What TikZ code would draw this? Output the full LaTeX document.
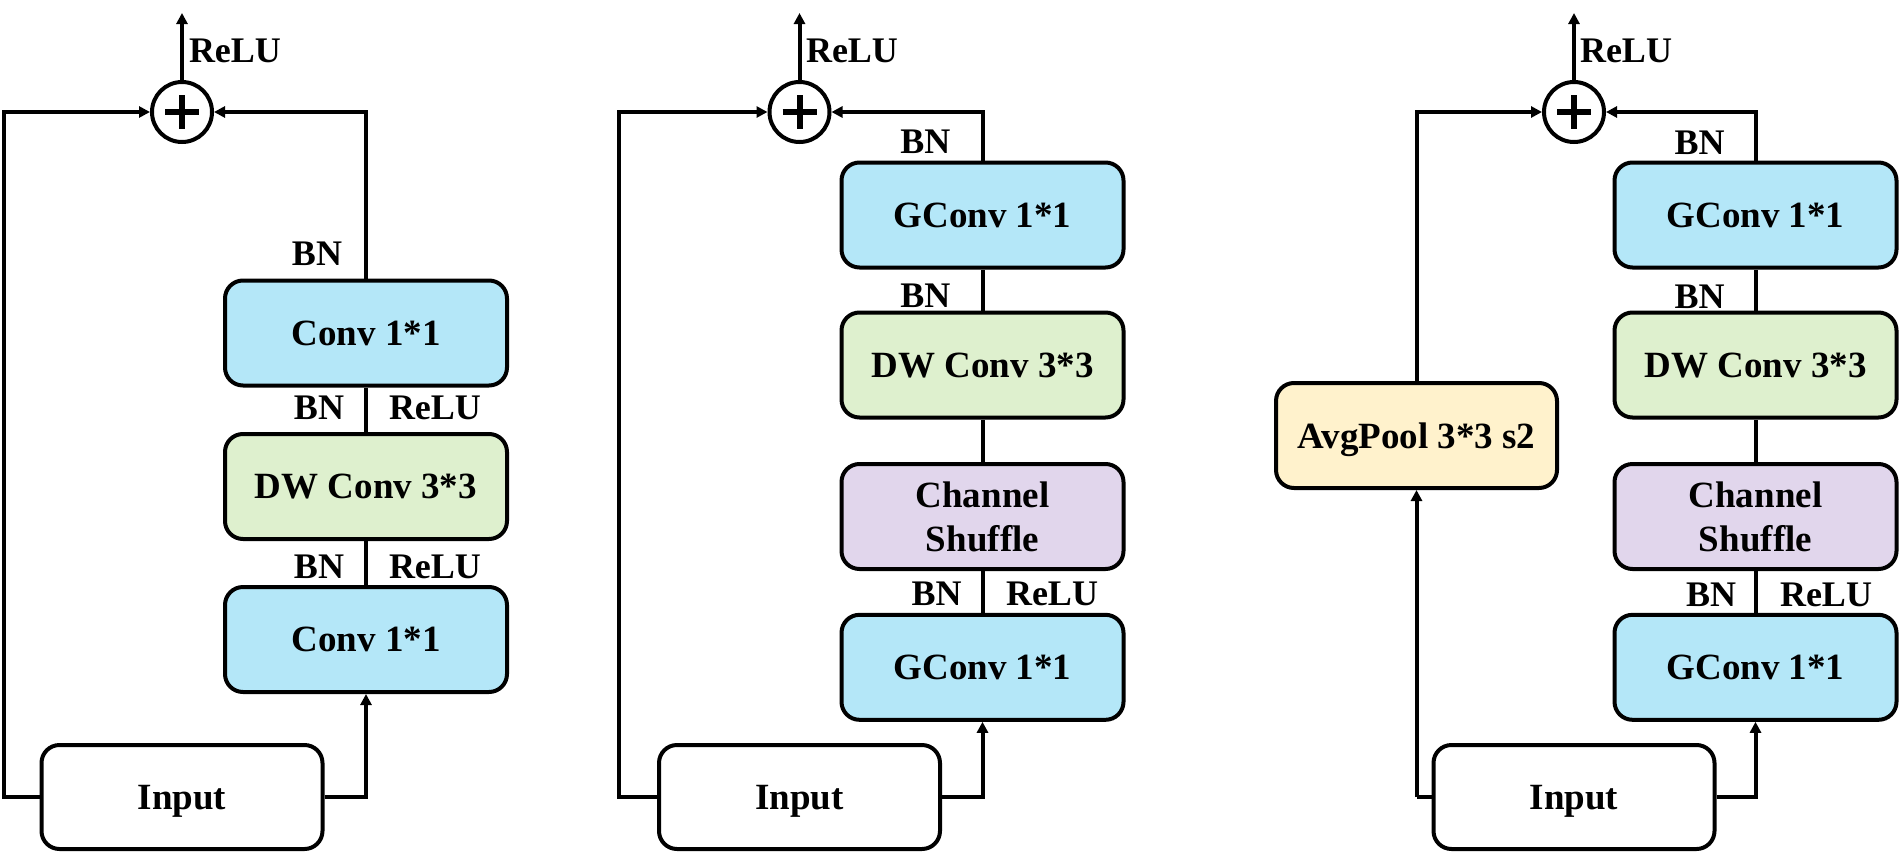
\documentclass[tikz,border=0pt]{standalone}
\usepackage{fontspec}
\setmainfont{Liberation Serif}
\usetikzlibrary{arrows.meta,calc}
\definecolor{cblue}{RGB}{180,231,248}
\definecolor{cgreen}{RGB}{222,240,206}
\definecolor{cpurple}{RGB}{225,214,236}
\definecolor{cyellow}{RGB}{255,242,204}
\begin{document}
\begin{tikzpicture}[x=1pt,y=-1pt, line width=4pt,
  blk/.style={draw, rounded corners=18pt, minimum width=282pt, minimum height=105pt, inner sep=0pt,
    font=\fontsize{37}{44}\selectfont\bfseries, align=center, text depth=0pt},
  lab/.style={inner sep=0pt, font=\fontsize{36}{43}\selectfont\bfseries},
  arr/.style={-{Triangle[length=11pt,width=11pt]}},
  sumnode/.style={draw, circle, minimum size=60pt, inner sep=0pt, fill=white}]
\path[use as bounding box] (0,0) rectangle (1901,854);

% ---------------- Panel 1 ----------------
\node[sumnode] (c1) at (182,112) {};
\node[blk, fill=cblue]  (t1) at (366,333) {Conv 1*1};
\node[blk, fill=cgreen] (d1) at (366,486.5) {DW Conv 3*3};
\node[blk, fill=cblue]  (b1) at (366,639.5) {Conv 1*1};
\node[blk, fill=white, minimum width=281pt, minimum height=104pt] (in1) at (182,797) {Input};
\coordinate (o1) at (182,13);
\coordinate (l1t) at (3.5,112);
\coordinate (l1b) at (3.5,797);
\draw[arr] (in1.west) -- (l1b) -- (l1t) -- (c1.west);
\draw[arr] (in1.east) -| (b1.south);
\draw (b1.north) -- (d1.south);
\draw (d1.north) -- (t1.south);
\draw[arr] (t1.north) |- (c1.east);
\draw[arr] (c1.north) -- (o1);
\draw[line width=6pt] (c1.center) ++(-17,0) -- ++(34,0);
\draw[line width=6pt] (c1.center) ++(0,-17) -- ++(0,34);
\node[lab, anchor=base west] (r1a) at (187,62) {ReLU};
\node[lab, anchor=base east] (n1a) at (344,265) {BN};
\node[lab, anchor=base east] (n1b) at (346,419) {BN};
\node[lab, anchor=base west] (r1b) at (387,419) {ReLU};
\node[lab, anchor=base east] (n1c) at (346,578) {BN};
\node[lab, anchor=base west] (r1c) at (387,578) {ReLU};

% ---------------- Panel 2 ----------------
\node[sumnode] (c2) at (799.5,112) {};
\node[blk, fill=cblue]   (t2) at (982.5,215) {GConv 1*1};
\node[blk, fill=cgreen]  (d2) at (982.5,365) {DW Conv 3*3};
\node[blk, fill=cpurple] (s2) at (982.5,516.5) {Channel\\Shuffle};
\node[blk, fill=cblue]   (b2) at (982.5,667.3) {GConv 1*1};
\node[blk, fill=white, minimum width=281pt, minimum height=104pt] (in2) at (799.5,797) {Input};
\coordinate (o2) at (799.5,13);
\coordinate (l2t) at (618.7,112);
\coordinate (l2b) at (618.7,797);
\draw[arr] (in2.west) -- (l2b) -- (l2t) -- (c2.west);
\draw[arr] (in2.east) -| (b2.south);
\draw (b2.north) -- (s2.south);
\draw (s2.north) -- (d2.south);
\draw (d2.north) -- (t2.south);
\draw[arr] (t2.north) |- (c2.east);
\draw[arr] (c2.north) -- (o2);
\draw[line width=6pt] (c2.center) ++(-17,0) -- ++(34,0);
\draw[line width=6pt] (c2.center) ++(0,-17) -- ++(0,34);
\node[lab, anchor=base west] (r2a) at (804,62) {ReLU};
\node[lab, anchor=base east] (n2a) at (952.4,153.6) {BN};
\node[lab, anchor=base east] (n2b) at (952.4,307.7) {BN};
\node[lab, anchor=base east] (n2c) at (963.6,605.7) {BN};
\node[lab, anchor=base west] (r2c) at (1004,605.7) {ReLU};

% ---------------- Panel 3 ----------------
\node[sumnode] (c3) at (1574,112) {};
\node[blk, fill=cblue]   (t3) at (1755.5,215) {GConv 1*1};
\node[blk, fill=cgreen]  (d3) at (1755.5,365) {DW Conv 3*3};
\node[blk, fill=cpurple] (s3) at (1755.5,516.5) {Channel\\Shuffle};
\node[blk, fill=cblue]   (b3) at (1755.5,667.3) {GConv 1*1};
\node[blk, fill=cyellow, minimum width=281pt] (ap3) at (1416.5,435.5) {AvgPool 3*3 s2};
\node[blk, fill=white, minimum width=281pt, minimum height=104pt] (in3) at (1574,797) {Input};
\coordinate (o3) at (1574,13);
\coordinate (l3b) at (1416.5,797);
\draw (in3.west) -- (l3b);
\draw[arr] (l3b) -- (ap3.south);
\draw[arr] (ap3.north) |- (c3.west);
\draw[arr] (in3.east) -| (b3.south);
\draw (b3.north) -- (s3.south);
\draw (s3.north) -- (d3.south);
\draw (d3.north) -- (t3.south);
\draw[arr] (t3.north) |- (c3.east);
\draw[arr] (c3.north) -- (o3);
\draw[line width=6pt] (c3.center) ++(-17,0) -- ++(34,0);
\draw[line width=6pt] (c3.center) ++(0,-17) -- ++(0,34);
\node[lab, anchor=base west] (r3a) at (1578,62) {ReLU};
\node[lab, anchor=base east] (n3a) at (1726.5,154) {BN};
\node[lab, anchor=base east] (n3b) at (1726.5,308) {BN};
\node[lab, anchor=base east] (n3c) at (1738,606) {BN};
\node[lab, anchor=base west] (r3c) at (1778,606) {ReLU};
\end{tikzpicture}
\end{document}
